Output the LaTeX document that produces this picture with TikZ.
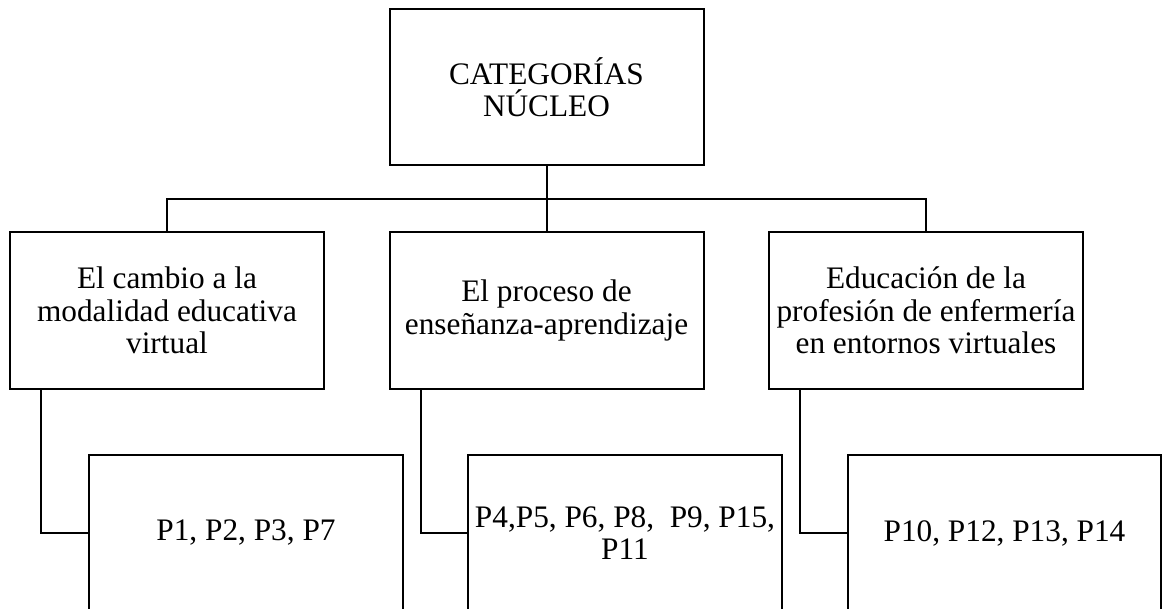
\documentclass[tikz,border=0pt]{standalone}
\usepackage{fontspec}
\setmainfont{Liberation Serif}
\begin{document}
\begin{tikzpicture}[x=1pt,y=-1pt,
  box/.style={draw, line width=2pt, minimum width=314pt, minimum height=157pt,
    align=center, inner sep=0pt, font=\fontsize{31.3}{32.5}\selectfont},
  link/.style={line width=2pt}]
\useasboundingbox (0,0) rectangle (1162,608);
\clip (0,0) rectangle (1162,608);
\node[box, minimum height=156pt] (top) at (546.5,87) {CATEGORÍAS\\NÚCLEO};
\node[box] (ml) at (167,310.5) {El cambio a la\\modalidad educativa\\virtual};
\node[box] (mm) at (546.5,310.5) {El proceso de\\enseñanza-aprendizaje};
\node[box] (mr) at (926,310.5) {Educación de la\\profesión de enfermería\\en entornos virtuales};
\node[box, minimum height=156pt] (bl) at (246,533) {P1, P2, P3, P7};
\node[box, minimum height=156pt] (bm) at (625,533) {P4,P5, P6, P8,\ \ P9, P15,\\P11};
\node[box, minimum height=156pt, minimum width=313pt] (br) at (1004.5,533) {P10, P12, P13, P14};
\coordinate (bus) at (546.5,199);
\draw[link] (top.south) -- (mm.north);
\draw[link] (ml.north) |- (bus) -| (mr.north);
\draw[link] (ml.south west) ++(32,0) |- (bl.west);
\draw[link] (mm.south west) ++(32,0) |- (bm.west);
\draw[link] (mr.south west) ++(32,0) |- (br.west);
\end{tikzpicture}
\end{document}
